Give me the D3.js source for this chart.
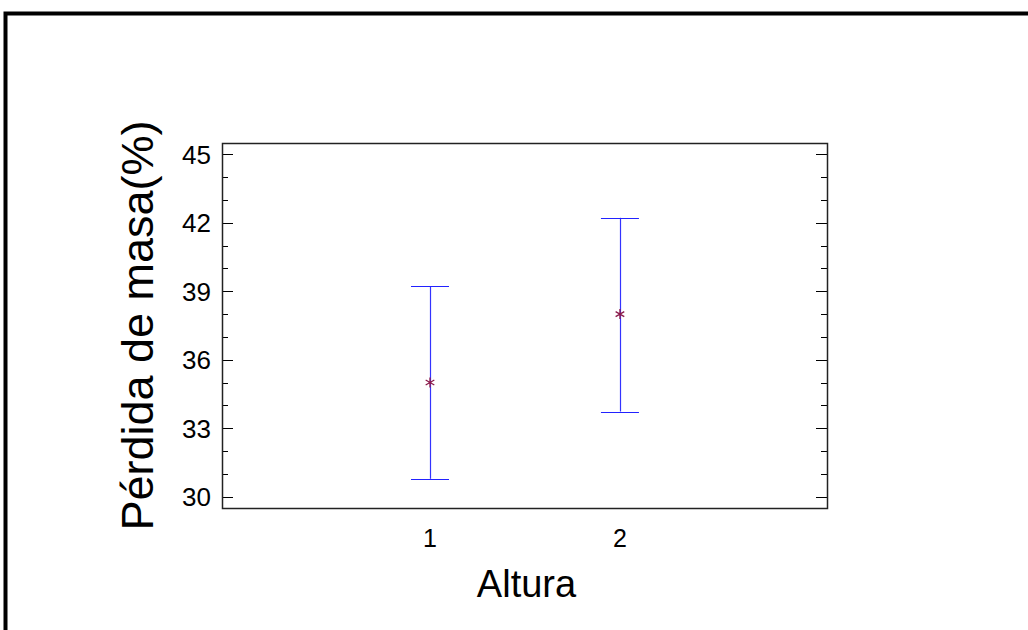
<!DOCTYPE html>
<html>
<head>
<meta charset="utf-8">
<script src="https://cdn.jsdelivr.net/npm/d3@7"></script>
<style>
  html, body { margin: 0; padding: 0; background: #fff; overflow: hidden; }
  svg { display: block; font-family: "Liberation Sans", Arial, sans-serif; }
</style>
</head>
<body>
<svg id="chart"></svg>
<script>
// chart data
const categories = [1, 2];
const means = [35.0, 38.0];
const upper = [39.22, 42.22];
const lower = [30.78, 33.73];
const yTicks = [30, 33, 36, 39, 42, 45];

const width = 1028, height = 630;
const margin = {top: 143, right: 201, bottom: 122, left: 222};

const svg = d3.select("#chart")
    .attr("width", width)
    .attr("height", height);

// outer frame (only top and left edges are visible)
svg.append("path")
    .attr("d", `M5.5,${height + 5}V13.5H${width + 10}`)
    .attr("fill", "none")
    .attr("stroke", "#000").attr("stroke-width", 4);

const innerW = width - margin.left - margin.right;
const innerH = height - margin.top - margin.bottom;

const x = d3.scaleLinear().domain([-0.095, 3.09]).range([0, innerW]);
const y = d3.scaleLinear().domain([29.5, 45.5]).range([innerH, 0]);

const g = svg.append("g")
    .attr("transform", `translate(${margin.left},${margin.top})`);

// minor ticks every 1, major every 3 -- inside both sides
const minor = d3.range(30, 46, 1);
g.selectAll(".tickL").data(minor).enter().append("line")
    .attr("x1", 0).attr("x2", d => yTicks.includes(d) ? 11 : 6)
    .attr("y1", d => Math.round(y(d)) + 0.5).attr("y2", d => Math.round(y(d)) + 0.5)
    .attr("stroke", "#000");
g.selectAll(".tickR").data(minor).enter().append("line")
    .attr("x1", innerW).attr("x2", d => innerW - (yTicks.includes(d) ? 11 : 6))
    .attr("y1", d => Math.round(y(d)) + 0.5).attr("y2", d => Math.round(y(d)) + 0.5)
    .attr("stroke", "#000");

// plot box
g.append("rect")
    .attr("x", 0.5).attr("y", 0.5)
    .attr("width", innerW).attr("height", innerH)
    .attr("fill", "none")
    .attr("stroke", "#222")
    .attr("stroke-width", 1.5);

// y labels
g.selectAll(".ylab").data(yTicks).enter().append("text")
    .attr("x", -11)
    .attr("y", d => y(d))
    .attr("dy", "0.36em")
    .attr("text-anchor", "end")
    .attr("font-size", 26)
    .text(d => d);

// x labels
g.selectAll(".xlab").data(categories).enter().append("text")
    .attr("x", d => x(d))
    .attr("y", innerH + 39)
    .attr("text-anchor", "middle")
    .attr("font-size", 25)
    .text(d => d);

// error bars
const capW = 19;
const bars = g.selectAll(".bar").data(categories).enter().append("g");
bars.append("line")
    .attr("x1", d => Math.round(x(d)) + 0.5).attr("x2", d => Math.round(x(d)) + 0.5)
    .attr("y1", (d, i) => y(upper[i])).attr("y2", (d, i) => y(lower[i]))
    .attr("stroke", "#3333ff").attr("stroke-width", 1.2);
[upper, lower].forEach(arr => {
    bars.append("line")
        .attr("x1", d => x(d) - capW).attr("x2", d => x(d) + capW)
        .attr("y1", (d, i) => Math.round(y(arr[i])) + 0.5)
        .attr("y2", (d, i) => Math.round(y(arr[i])) + 0.5)
        .attr("stroke", "#2222ff").attr("stroke-width", 1.2);
});

// mean markers (asterisk)
const star = d3.symbol().type(d3.symbolAsterisk).size(70);
bars.append("path")
    .attr("d", star)
    .attr("transform", (d, i) => `translate(${x(d)},${y(means[i])})`)
    .attr("fill", "none")
    .attr("stroke", "#8b1a4a")
    .attr("stroke-width", 1.3);

// axis titles
svg.append("text")
    .attr("x", (margin.left + margin.left + innerW) / 2 + 2)
    .attr("y", 597)
    .attr("text-anchor", "middle")
    .attr("font-size", 38)
    .text("Altura");

svg.append("text")
    .attr("transform", `translate(153,${margin.top + innerH / 2}) rotate(-90)`)
    .attr("text-anchor", "middle")
    .attr("font-size", 45)
    .text("Pérdida de masa(%)");
</script>
</body>
</html>
